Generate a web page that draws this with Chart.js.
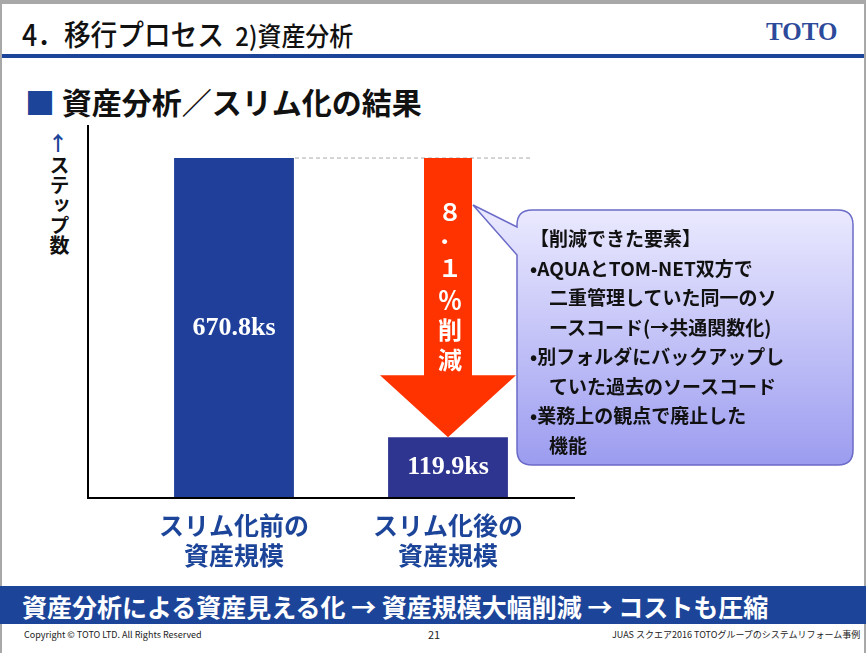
<!DOCTYPE html>
<html><head><meta charset="utf-8">
<script src="https://cdn.jsdelivr.net/npm/chart.js@4"></script>
<style>
body{margin:0;width:866px;height:653px;background:#fff;font-family:"Noto Sans CJK JP",sans-serif;overflow:hidden;position:relative}
.frame{position:absolute;left:0;top:0;width:862px;height:649px;border:2px solid #a8a8a8;border-top-width:4px}
.abs{position:absolute;white-space:nowrap}
#wrap{position:absolute;left:0;top:110px;width:600px;height:464px}
</style></head><body>
<div class="frame"></div>
<div class="abs" style="left:22px;top:12px;font-size:29px;font-weight:500;color:#111;transform:scaleX(0.92);transform-origin:left">4．移行プロセス <span style="font-size:26px">&nbsp;2)資産分析</span></div>
<div class="abs" style="left:766px;top:18px;font-size:25px;font-weight:bold;color:#2d4a9a;font-family:'Liberation Serif',serif">TOTO</div>
<div class="abs" style="left:2px;top:54px;width:862px;height:4px;background:#1c459a"></div>
<div class="abs" style="left:25px;top:79px;font-size:30px;font-weight:bold;color:#111"><span style="color:#1c459a">■</span> 資産分析／スリム化の結果</div>
<div class="abs" style="left:48px;top:128px;font-size:20px;font-weight:bold;color:#1c459a">↑</div>
<div class="abs" style="left:48px;top:155px;font-size:20px;font-weight:bold;color:#111;writing-mode:vertical-rl;line-height:22px">ステップ数</div>
<div id="wrap"><canvas id="c"></canvas></div>
<div class="abs" style="left:0;top:586px;width:866px;height:38px;background:#1c459a"></div>
<div class="abs" style="left:22px;top:588px;font-size:25px;font-weight:bold;color:#fff">資産分析による資産見える化 → 資産規模大幅削減 → コストも圧縮</div>
<div class="abs" style="left:24px;top:628px;font-size:9px;color:#222">Copyright © TOTO LTD. All Rights Reserved</div>
<div class="abs" style="left:428px;top:626px;font-size:11px;color:#222">21</div>
<div class="abs" style="left:612px;top:628px;font-size:9px;color:#222">JUAS スクエア2016 TOTOグループのシステムリフォーム事例</div>
<script>
const categories = [["スリム化前の","資産規模"],["スリム化後の","資産規模"]];
const values = [670.8, 119.9];
const valueLabels = ["670.8ks","119.9ks"];
const barColors = ["#1f3f9a","#2e3590"];
const reductionText = ["８","．","１","％","削","減"];
const calloutLines = ["【削減できた要素】","•AQUAとTOM-NET双方で","　二重管理していた同一のソ","　ースコード(→共通関数化)","•別フォルダにバックアップし","　ていた過去のソースコード","•業務上の観点で廃止した","　機能"];

const overlay = {
  id:'overlay',
  afterDatasetsDraw(chart){
    const {ctx, scales:{x,y}} = chart;
    const meta = chart.getDatasetMeta(0);
    const b0 = meta.data[0], b1 = meta.data[1];
    ctx.save();
    // axes
    ctx.strokeStyle='#000'; ctx.lineWidth=2;
    ctx.beginPath(); ctx.moveTo(88, y.top); ctx.lineTo(88, y.bottom); ctx.lineTo(575, y.bottom); ctx.stroke();
    // value labels
    ctx.fillStyle='#fff'; ctx.textAlign='center'; ctx.textBaseline='middle';
    ctx.font='bold 26px "Liberation Serif"';
    ctx.fillText(valueLabels[0], b0.x, (b0.y+b0.base)/2);
    ctx.fillText(valueLabels[1], b1.x, (b1.y+b1.base)/2);
    // dashed line
    ctx.strokeStyle='#aaa'; ctx.setLineDash([4,3]); ctx.lineWidth=1;
    ctx.beginPath(); ctx.moveTo(b0.x+61, b0.y); ctx.lineTo(b1.x+83, b0.y); ctx.stroke();
    ctx.setLineDash([]);
    // arrow
    const ax=b1.x, top=y.getPixelForValue(values[0]), tip=y.getPixelForValue(values[1]);
    const headTop = tip-62;
    ctx.fillStyle='#ff3300';
    ctx.beginPath();
    ctx.moveTo(ax-24,top); ctx.lineTo(ax+24,top); ctx.lineTo(ax+24,headTop);
    ctx.lineTo(ax+68,headTop); ctx.lineTo(ax,tip); ctx.lineTo(ax-68,headTop);
    ctx.lineTo(ax-24,headTop); ctx.closePath(); ctx.fill();
    ctx.fillStyle='#fff'; ctx.font='bold 24px "Noto Sans CJK JP"';
    const ys=[212,235,268,300,330,360];
    reductionText.forEach((t,i)=>ctx.fillText(t, ax+2, ys[i]-110));
    ctx.restore();
  }
};

new Chart(document.getElementById('c'),{
  type:'bar',
  data:{labels:categories,datasets:[{data:values,backgroundColor:barColors,barPercentage:0.56,categoryPercentage:1}]},
  options:{
    responsive:true,maintainAspectRatio:false,animation:false,
    layout:{padding:{left:119,right:45,top:15,bottom:0}},
    plugins:{legend:{display:false},tooltip:{enabled:false}},
    scales:{
      x:{grid:{display:false},border:{display:false},
         ticks:{color:'#1c459a',font:{size:25,weight:'bold',family:'"Noto Sans CJK JP"'},padding:4}},
      y:{min:0,max:736,grid:{display:false},border:{display:false},ticks:{display:false}}
    }
  },
  plugins:[overlay]
});
</script>
<svg class="abs" style="left:460px;top:195px" width="400" height="280">
<defs><linearGradient id="g" x1="0" y1="0" x2="0" y2="1"><stop offset="0" stop-color="#ecebff"/><stop offset="1" stop-color="#9c9cf0"/></linearGradient></defs>
<path d="M72,15 Q57,15 57,30 L57,32 L13,10 L57,60 L57,255 Q57,270 72,270 L378,270 Q393,270 393,255 L393,30 Q393,15 378,15 Z" fill="url(#g)" stroke="#6b6bc8" stroke-width="1.5"/>
</svg>
<div class="abs" style="left:530px;top:223px;font-size:19px;font-weight:bold;line-height:29.5px;color:#111" id="co"></div>
<script>document.getElementById('co').innerHTML=calloutLines.join('<br>');</script>
</body></html>
